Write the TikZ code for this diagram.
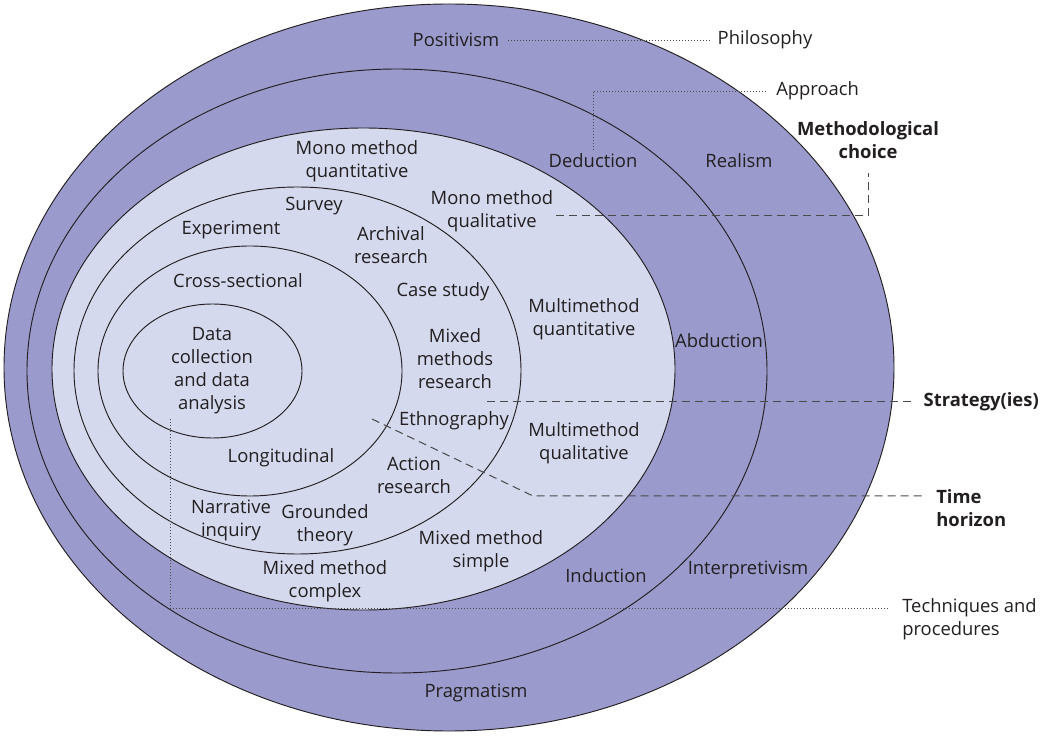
\documentclass[tikz,border=0pt]{standalone}
\usepackage{fontspec}
\setmainfont{Open Sans}
\definecolor{purp}{HTML}{9A9ACC}
\definecolor{lite}{HTML}{D4D9EE}
\definecolor{ink}{HTML}{231F20}
\definecolor{lead}{HTML}{4A4A4A}
\begin{document}
\begin{tikzpicture}[x=0.75pt,y=-0.75pt,
  ring/.style={draw=ink,line width=0.7pt},
  lbl/.style={inner sep=0pt,align=center,text=ink,font=\fontsize{13.8}{17.25}\selectfont},
  blbl/.style={lbl,font=\fontsize{13.8}{17.25}\selectfont\bfseries},
  dashlead/.style={draw=lead,line width=0.75pt,dash pattern=on 6pt off 3.75pt},
  dotlead/.style={draw=lead,line width=0.7pt,dash pattern=on 0.75pt off 1.5pt}]
\useasboundingbox (0,0) rectangle (1042,737);
% rings
\fill[purp] (449,367.5) ellipse [x radius=445,y radius=363.5];
\draw[ring] (449,367.5) ellipse [x radius=445,y radius=363.5];
\draw[ring] (397,371) ellipse [x radius=370,y radius=302];
\fill[lite] (363.5,369) ellipse [x radius=311.5,y radius=241];
\draw[ring] (363.5,369) ellipse [x radius=311.5,y radius=241];
\draw[ring] (297.5,370.5) ellipse [x radius=223.5,y radius=183.5];
\draw[ring] (250,371) ellipse [x radius=152,y radius=125];
\draw[ring] (212.5,371) ellipse [x radius=89.5,y radius=67];
% labels
\node[lbl] (pos) at (456,40) {Positivism};
\node[lbl] (phil) at (765,40) {Philosophy};
\node[lbl,anchor=west] (app) at (776,91) {Approach};
\node[lbl] (ded) at (593,161) {Deduction};
\node[lbl] (real) at (739,161) {Realism};
\node[blbl] (mc) at (868,140.5) {Methodological\\choice};
\node[lbl] (mmqual) at (492,211) {Mono method\\qualitative};
\node[lbl] (mmquant) at (357,161.5) {Mono method\\quantitative};
\node[lbl] (surv) at (314,206) {Survey};
\node[lbl] (exp) at (231,230) {Experiment};
\node[lbl] (arch) at (391,245.5) {Archival\\research};
\node[lbl] (cross) at (238,281) {Cross-sectional};
\node[lbl] (case) at (443,292) {Case study};
\node[lbl] (data) at (212,371) {Data\\collection\\and data\\analysis};
\node[lbl] (mixr) at (455,358.5) {Mixed\\methods\\research};
\node[lbl] (multquant) at (584,319) {Multimethod\\quantitative};
\node[lbl] (abd) at (719,341) {Abduction};
\node[blbl,anchor=east] (strat) at (1039,402) {Strategy(ies)};
\node[lbl] (eth) at (454,421) {Ethnography};
\node[lbl] (multqual) at (584,443) {Multimethod\\qualitative};
\node[lbl] (long) at (281,458) {Longitudinal};
\node[lbl] (act) at (414,475.5) {Action\\research};
\node[blbl,anchor=west,align=left] (time) at (936,508.5) {Time\\horizon};
\node[lbl] (narr) at (231,520) {Narrative\\inquiry};
\node[lbl] (grnd) at (325,525) {Grounded\\theory};
\node[lbl] (mms) at (481,551.5) {Mixed method\\simple};
\node[lbl] (mmc) at (325,581) {Mixed method\\complex};
\node[lbl] (ind) at (606,576) {Induction};
\node[lbl] (interp) at (748,570) {Interpretivism};
\node[lbl,anchor=west,align=left] (tech) at (902,619.5) {Techniques and\\procedures};
\node[lbl] (prag) at (476,693) {Pragmatism};
% leader ends
\coordinate (appfoot) at (593,150);
\coordinate (mcfoot) at (556,216);
\coordinate (stratfoot) at (487,402);
\coordinate (timefoot) at (372,419);
\coordinate (timebend) at (533,496);
\coordinate (techfoot) at (170,419);
% leaders
\draw[dotlead] ([xshift=6.5pt]pos.east) -- ([xshift=-5pt]phil.west);
\draw[dotlead] (appfoot) |- ([xshift=-6pt]app.west);
\draw[dashlead] (mcfoot) -| ([yshift=-10pt]mc.south);
\draw[dashlead] (stratfoot) -- ([xshift=-9pt]strat.west);
\draw[dashlead] (timefoot) -- (timebend) -- ([xshift=-10.5pt]time.west |- timebend);
\draw[dotlead] (techfoot) |- ([xshift=-10.5pt,yshift=8.6pt]tech.west);
\end{tikzpicture}
\end{document}
